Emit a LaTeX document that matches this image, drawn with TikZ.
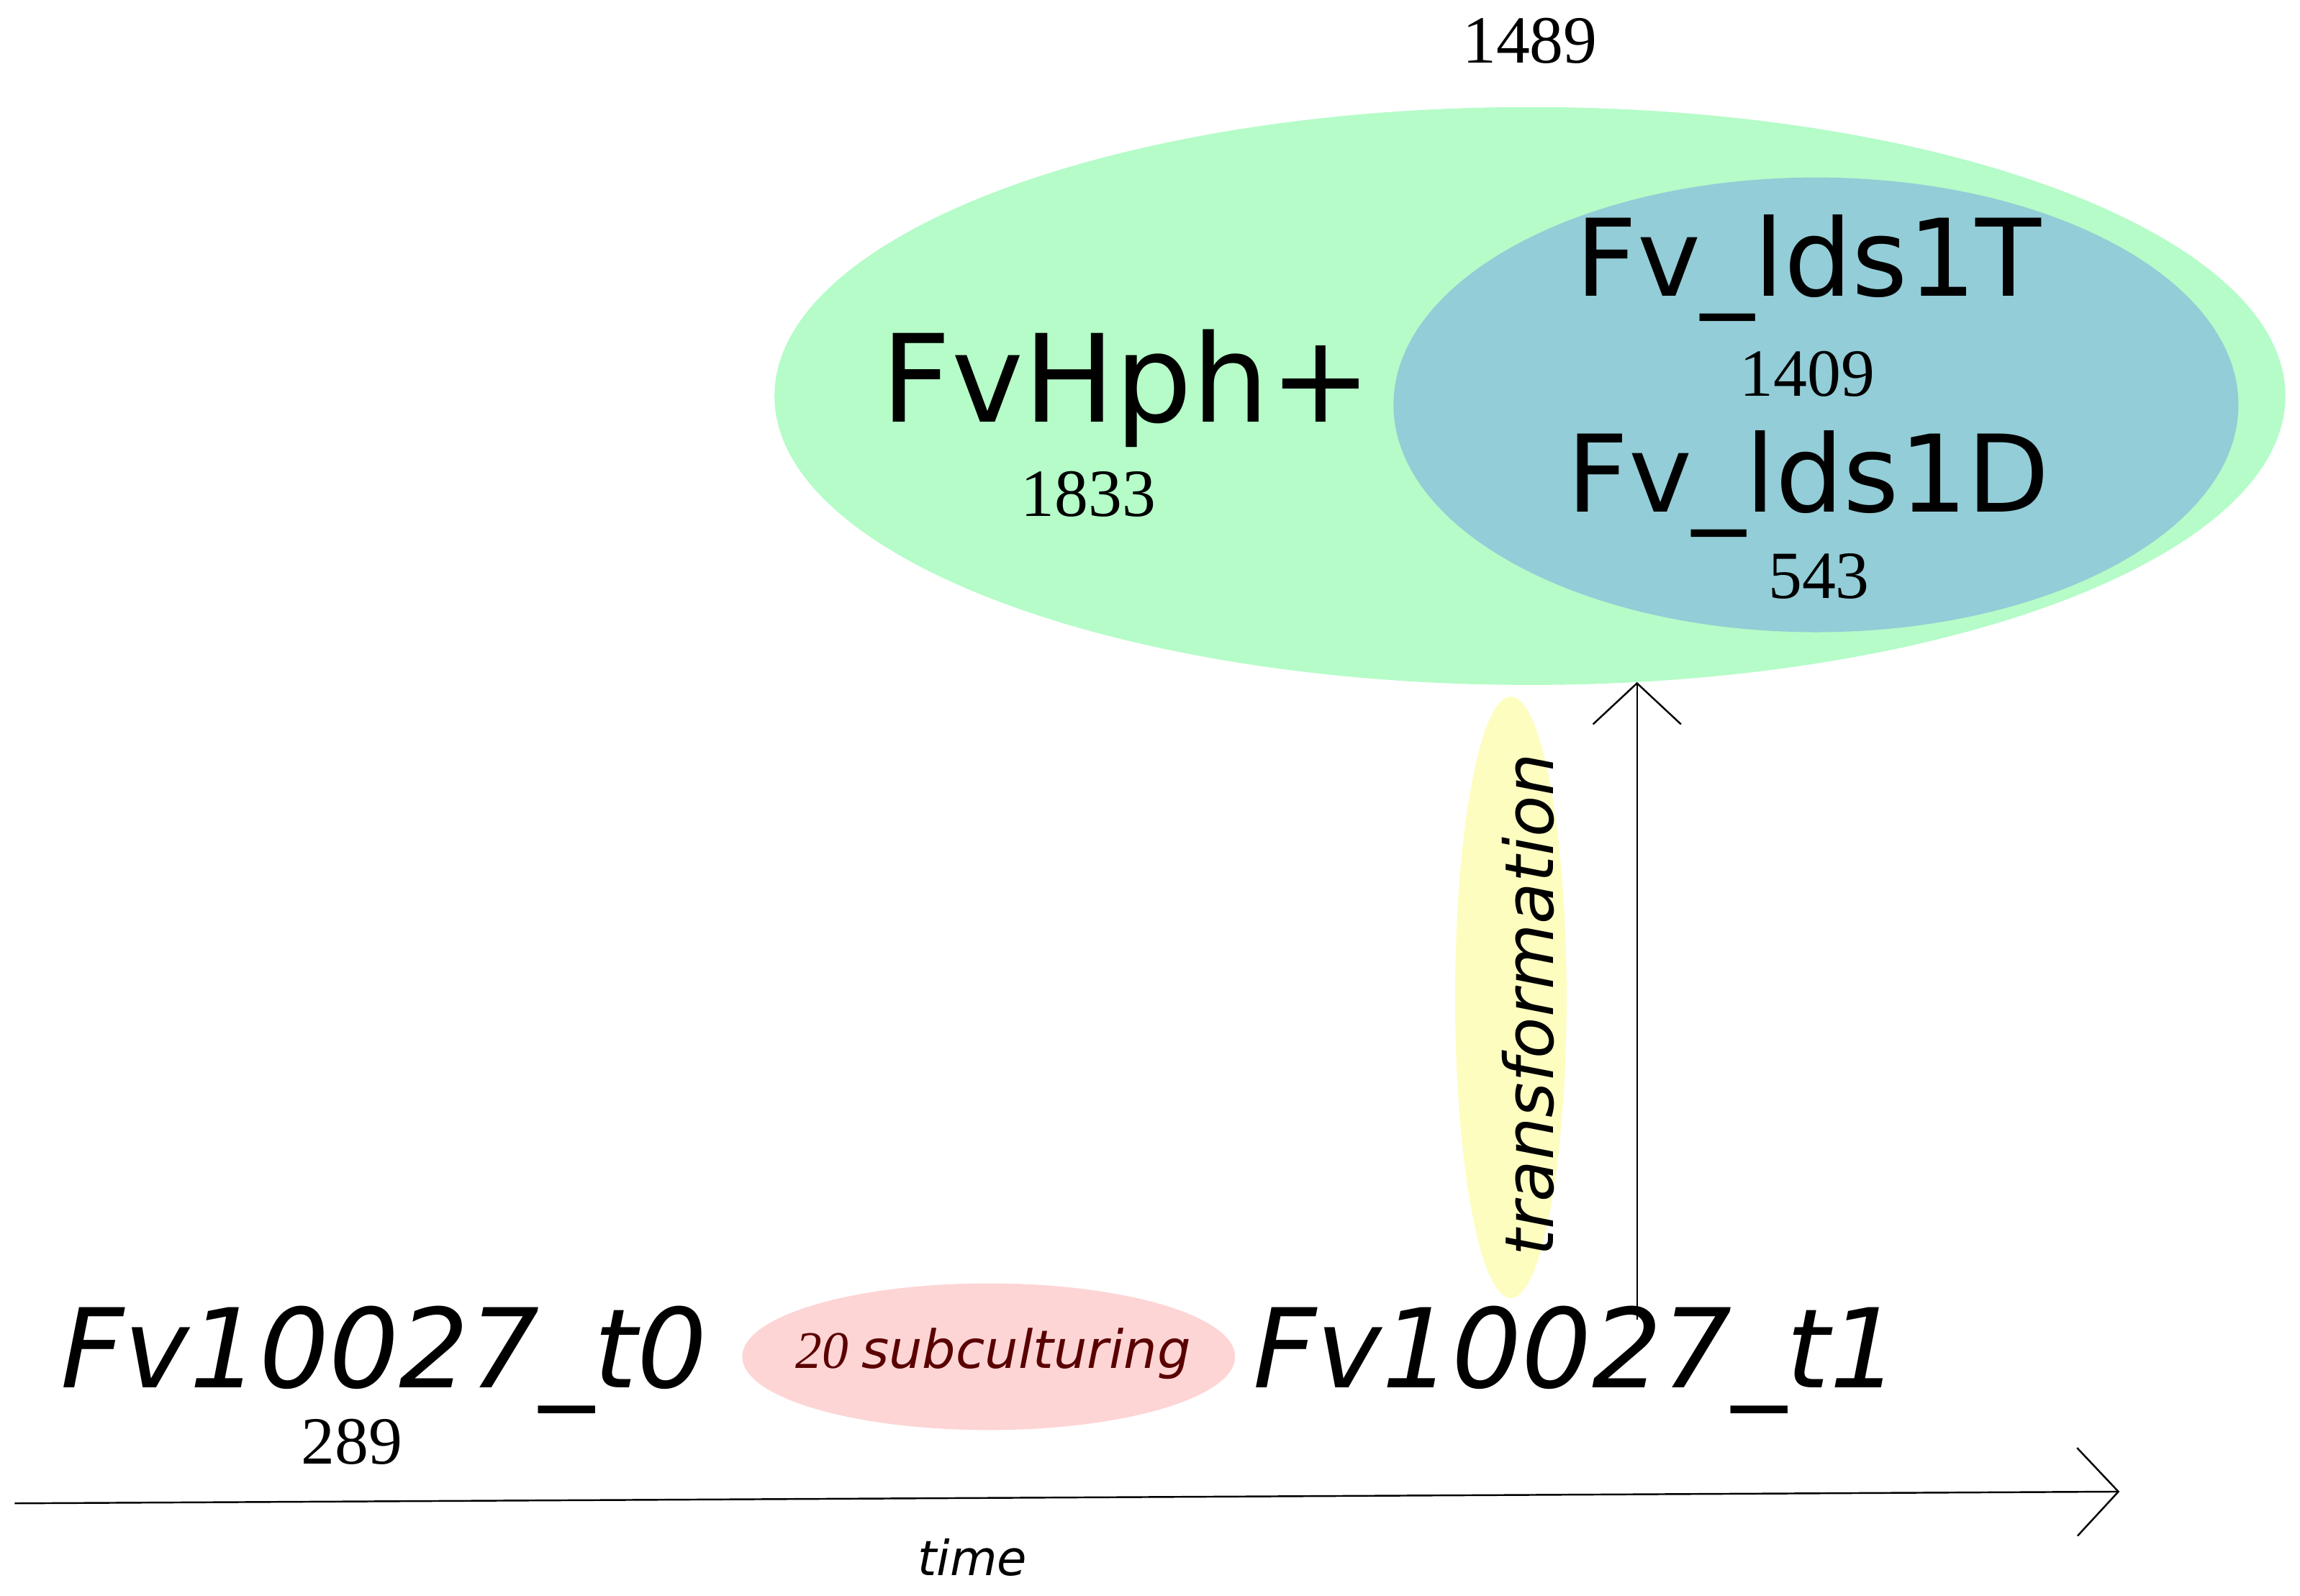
\documentclass[tikz,border=0pt]{standalone}
\usepackage{fontspec}
\setmainfont{Liberation Serif}
\setsansfont{DejaVu Sans}
\usetikzlibrary{arrows.meta}
\definecolor{green1}{HTML}{B5FCC8}
\definecolor{blue1}{HTML}{93CDD7}
\definecolor{yellow1}{HTML}{FDFDC0}
\definecolor{pink1}{HTML}{FDD5D5}
\definecolor{dred}{HTML}{5A0000}
\tikzset{
 big/.style={font=\sffamily\fontsize{#1}{#1}\selectfont, inner sep=0pt},
 num/.style={font=\fontsize{23}{23}\selectfont, inner sep=0pt},
 opentip/.style={-{Straight Barb[length=14pt,width=30pt]}, line width=0.6pt}
}
\begin{document}
\begin{tikzpicture}[x=0.5pt,y=-0.5pt]
\useasboundingbox (0,0) rectangle (1568,1088);
\fill[green1] (1043,270) ellipse [x radius=515, y radius=197];
\fill[blue1] (1238,276) ellipse [x radius=288, y radius=155];
\fill[yellow1] (1030,680) ellipse [x radius=38, y radius=205];
\fill[pink1] (674,925) ellipse [x radius=168, y radius=50];
\node[num] (n1489) at (1043,28) {1489};
\node[big=41.5] (hph) at (768,265) {FvHph+};
\node[num] (n1833) at (742,337) {1833};
\node[big=36.5] (ldsT) at (1233,183) {Fv\_lds1T};
\node[num] (n1409) at (1232,255) {1409};
\node[big=36.5] (ldsD) at (1233,330) {Fv\_lds1D};
\node[num] (n543) at (1240,393) {543};
\node[rotate=90, inner sep=0pt, font=\sffamily\itshape\fontsize{23}{23}\selectfont] (tr) at (1042,685) {transformation};
\node[inner sep=0pt, text=dred] (sub) at (677,923) {\fontsize{18}{18}\selectfont\itshape 20 \sffamily subculturing};
\node[inner sep=0pt, font=\sffamily\itshape\fontsize{37.5}{37.5}\selectfont] (t0) at (262,927) {Fv10027\_t0};
\node[num] (n289) at (240,983) {289};
\node[inner sep=0pt, font=\sffamily\itshape\fontsize{37.5}{37.5}\selectfont] (t1) at (1075,927) {Fv10027\_t1};
\coordinate (abot) at (1116,900);
\coordinate (atop) at (1116,465);
\draw[opentip] (abot) -- (atop);
\coordinate (ts) at (10,1025);
\coordinate (te) at (1445,1017);
\draw[opentip] (ts) -- (te);
\node[inner sep=0pt, font=\sffamily\itshape\fontsize{16.5}{16.5}\selectfont] (time) at (663,1062) {time};
\end{tikzpicture}
\end{document}
